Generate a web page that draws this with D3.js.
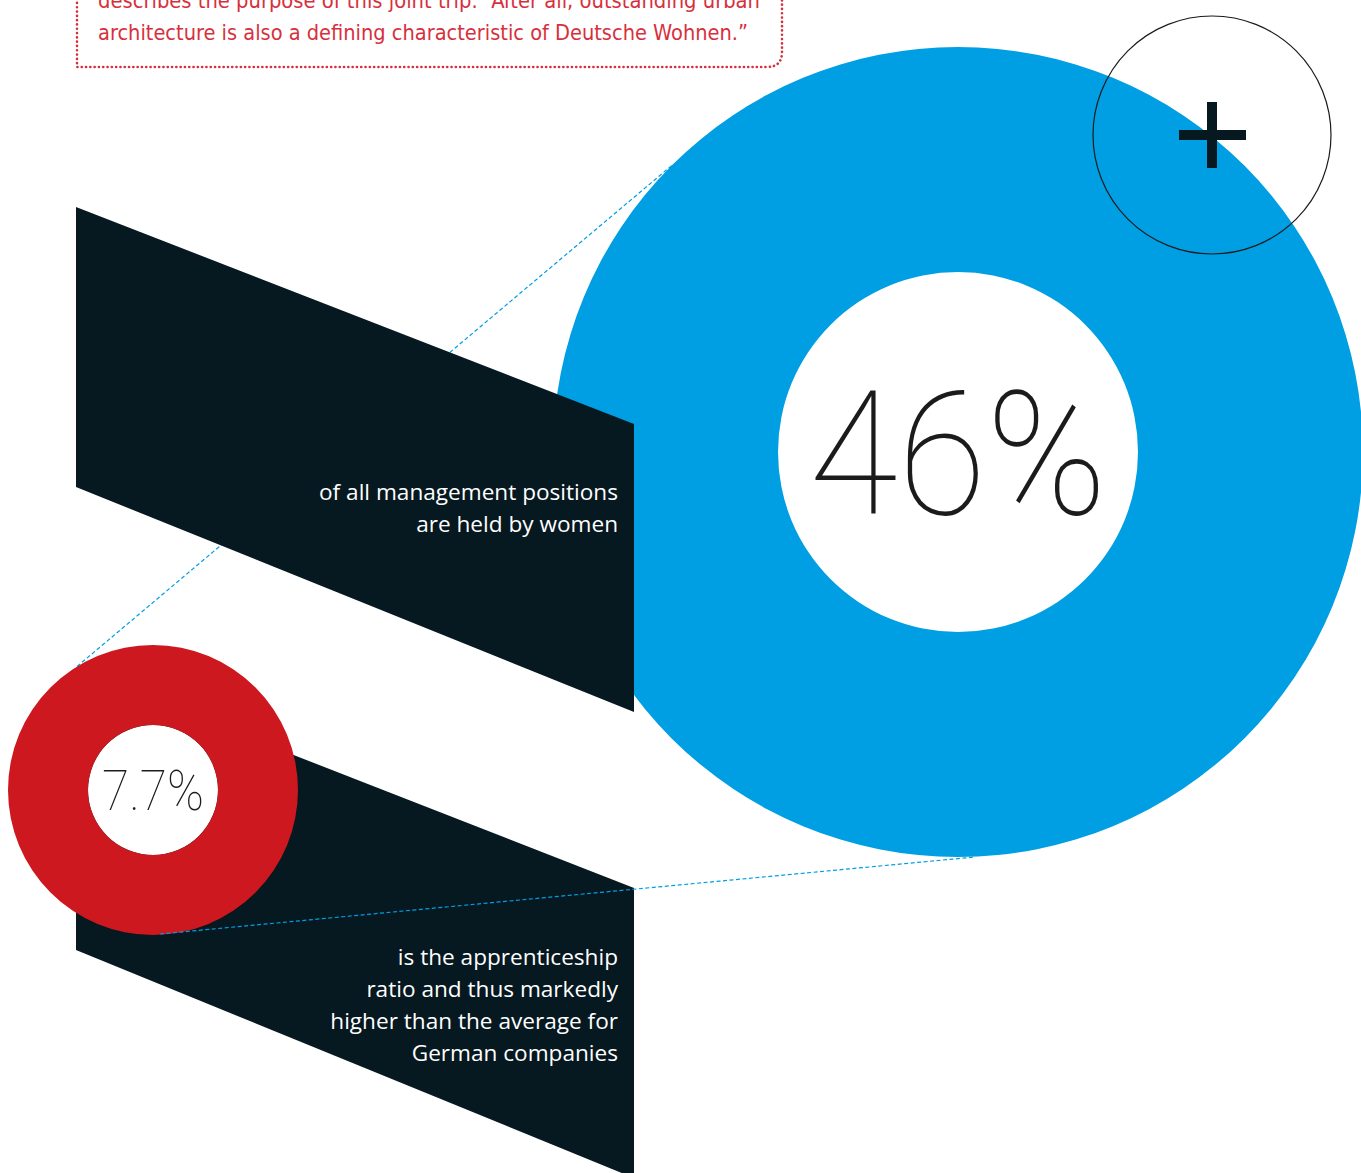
<!DOCTYPE html>
<html>
<head>
<meta charset="utf-8">
<script src="https://cdn.jsdelivr.net/npm/d3@7"></script>
<style>
  html, body { margin: 0; padding: 0; background: #fff; overflow: hidden; }
  svg { display: block; }
</style>
</head>
<body>
<svg id="chart"></svg>
<script>
// --- data ---
const statValues  = [46, 7.7]
const statLabels  = ["46%", "7.7%"]
const captionTop  = ["of all management positions", "are held by women"]
const captionBot  = ["is the apprenticeship", "ratio and thus markedly", "higher than the average for", "German companies"]
const quoteLines  = [
  "describes the purpose of this joint trip. \u201CAfter all, outstanding urban",
  "architecture is also a defining characteristic of Deutsche Wohnen.\u201D"
]

const W = 1361, H = 1173
const BLUE = "#009fe3", RED = "#cc181e", DARK = "#061820", QUOTE_RED = "#d7303d"

const svg = d3.select("#chart").attr("width", W).attr("height", H)

// donut geometry (centres / radii in px)
const donuts = [
  { cx: 958, cy: 452, r0: 180, r1: 405, color: BLUE, fs: 172, tw: 298, dy: 62 },
  { cx: 153, cy: 790, r0: 65,  r1: 145, color: RED,  fs: 56,  tw: 102, dy: 20 }
]

// quote box (dotted, top; first line runs off the page as in the original)
const box = svg.append("g")
box.append("path")
  .attr("d", "M77,-10 L77,67 L767,67 Q782,67 782,52 L782,-10")
  .attr("fill", "none").attr("stroke", QUOTE_RED).attr("stroke-width", 2.6)
  .attr("stroke-dasharray", "0.1 4.2").attr("stroke-linecap", "round")
box.selectAll("text").data(quoteLines).enter().append("text")
  .attr("x", 98).attr("y", (d, i) => 8 + i * 32)
  .attr("fill", QUOTE_RED)
  .attr("font-family", "'Liberation Sans Narrow', 'DejaVu Sans Condensed', sans-serif")
  .attr("font-size", 22)
  .attr("textLength", (d, i) => i === 0 ? 662 : 650)
  .attr("lengthAdjust", "spacingAndGlyphs")
  .text(d => d)

const arc = d3.arc().startAngle(0).endAngle(2 * Math.PI)
const big = donuts[0], small = donuts[1]

function drawDonut(d) {
  const g = svg.append("g").attr("transform", `translate(${d.cx},${d.cy})`)
  g.append("circle").attr("r", d.r0).attr("fill", "#fff")
  g.append("path")
    .attr("d", arc({ innerRadius: d.r0, outerRadius: d.r1 }))
    .attr("fill", d.color)
}

// blue donut
drawDonut(big)

// dashed connector 1 (beneath the upper panel)
const ang1 = -0.75 * Math.PI, ang1r = -0.676 * Math.PI
function dashed(x1, y1, x2, y2) {
  svg.append("line").attr("x1", x1).attr("y1", y1).attr("x2", x2).attr("y2", y2)
    .attr("stroke", BLUE).attr("stroke-width", 1.2).attr("stroke-dasharray", "4 2.5")
}
dashed(big.cx + big.r1 * Math.cos(ang1), big.cy + big.r1 * Math.sin(ang1),
       small.cx + small.r1 * Math.cos(ang1r), small.cy + small.r1 * Math.sin(ang1r))

// dark panels
const panelTop = [[76, 207], [634, 424], [634, 712], [76, 487]]
const panelBot = [[76, 670], [634, 888], [634, 1178], [76, 950]]
svg.append("path").attr("d", d3.line()(panelTop) + "Z").attr("fill", DARK)
svg.append("path").attr("d", d3.line()(panelBot) + "Z").attr("fill", DARK)

const capFont = "'Open Sans', 'Noto Sans', sans-serif"
function caption(lines, y0) {
  svg.append("g").selectAll("text").data(lines).enter().append("text")
    .attr("x", 618).attr("y", (d, i) => y0 + i * 32)
    .attr("text-anchor", "end").attr("fill", "#fff")
    .attr("font-family", capFont).attr("font-size", 22.6)
    .text(d => d)
}
caption(captionTop, 500)
caption(captionBot, 965)

// red donut
drawDonut(small)

// dashed connector 2 (over the lower panel)
dashed(small.cx + 7, small.cy + small.r1 - 1, big.cx + 17, big.cy + big.r1)

// value labels
donuts.forEach((d, i) => {
  svg.append("text")
    .attr("x", d.cx).attr("y", d.cy + d.dy)
    .attr("text-anchor", "middle")
    .attr("fill", "#1b1b1b")
    .attr("font-family", "Roboto, 'DejaVu Sans', sans-serif")
    .attr("font-weight", 100)
    .attr("font-size", d.fs)
    .attr("textLength", d.tw).attr("lengthAdjust", "spacingAndGlyphs")
    .text(statLabels[i])
})

// thin circle with plus
svg.append("circle").attr("cx", 1212).attr("cy", 135).attr("r", 119)
  .attr("fill", "none").attr("stroke", "#1a1a1a").attr("stroke-width", 1.2)
svg.append("path")
  .attr("d", "M1179,135 H1246 M1212,102 V168")
  .attr("stroke", DARK).attr("stroke-width", 10).attr("fill", "none")
</script>
</body>
</html>
